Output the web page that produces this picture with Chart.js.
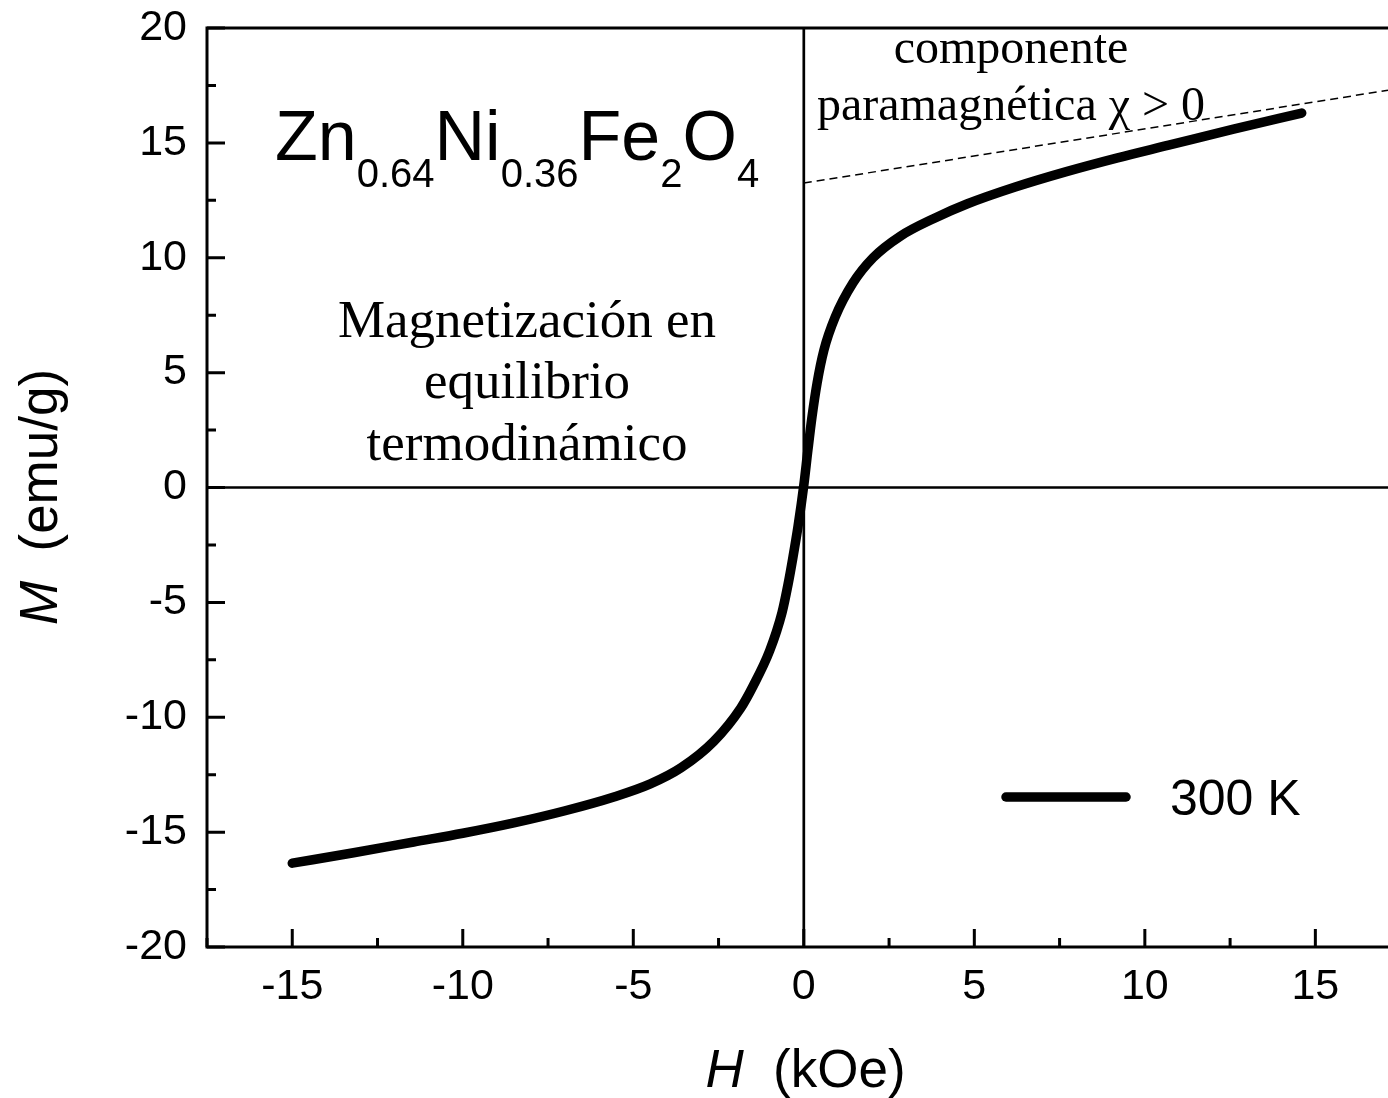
<!DOCTYPE html>
<html><head><meta charset="utf-8">
<script src="https://cdn.jsdelivr.net/npm/chart.js@4/dist/chart.umd.min.js"></script>
<style>html,body{margin:0;padding:0;background:#fff;overflow:hidden}#wrap{width:1388px;height:1098px;position:relative}</style>
</head><body><div id="wrap"><canvas id="c" width="1388" height="1098"></canvas></div>
<script>
// ---- data ----
const fieldKOe = [-15.0,-13.2,-11.44,-10.0,-8.5,-7.0,-5.57,-4.5,-3.6,-2.64,-1.85,-1.49,-1.0,-0.64,-0.46,-0.32,-0.17,0.0,0.12,0.24,0.39,0.59,0.92,1.44,2.03,2.84,3.8,4.8,6.2,7.7,9.2,10.7,12.6,14.6];
const magnetization = [-16.35,-15.9,-15.43,-15.05,-14.6,-14.07,-13.47,-12.9,-12.2,-11.05,-9.6,-8.65,-7.1,-5.45,-4.2,-3.05,-1.7,0.1,1.63,3.07,4.55,5.98,7.42,8.9,10.0,10.95,11.7,12.35,13.08,13.75,14.35,14.9,15.6,16.3];
const fitField = [0, 17.13];
const fitMagnetization = [13.25, 17.29];
const seriesLabel = '300 K';
const xMajorTicks = [-15,-10,-5,0,5,10,15];
const xMinorTicks = [-17.5,-12.5,-7.5,-2.5,2.5,7.5,12.5];
const yMajorTicks = [-20,-15,-10,-5,0,5,10,15,20];
const yMinorTicks = [-17.5,-12.5,-7.5,-2.5,2.5,7.5,12.5,17.5];
const xTitleParts = [['H',1],['  (kOe)',0]];
const yTitleParts = [['M',1],['  (emu/g)',0]];
const formulaParts = [['Zn',0],['0.64',1],['Ni',0],['0.36',1],['Fe',0],['2',1],['O',0],['4',1]];
const leftNote = ['Magnetización en','equilibrio','termodinámico'];
const rightNote = ['componente','paramagnética χ > 0'];

const SANS = '"Liberation Sans", Arial, sans-serif';
const SERIF = '"Liberation Serif", "Times New Roman", serif';

function drawParts(ctx, parts, size, cx, cy) {
  const fonts = parts.map(([t, it]) => (it ? 'italic ' : '') + size + 'px ' + SANS);
  let total = 0;
  const widths = parts.map(([t], i) => { ctx.font = fonts[i]; const w = ctx.measureText(t).width; total += w; return w; });
  let x = cx - total / 2;
  ctx.textAlign = 'left';
  ctx.textBaseline = 'middle';
  parts.forEach(([t], i) => { ctx.font = fonts[i]; ctx.fillText(t, x, cy); x += widths[i]; });
}

const overlay = {
  id: 'overlay',
  beforeDatasetsDraw(chart) {
    const {ctx, chartArea: a, scales: {x, y}} = chart;
    ctx.save();
    ctx.strokeStyle = '#000';
    ctx.lineWidth = 2.7;
    const x0 = x.getPixelForValue(0), y0 = y.getPixelForValue(0);
    ctx.beginPath();
    ctx.moveTo(a.left, y0); ctx.lineTo(a.right, y0);
    ctx.moveTo(x0, a.top); ctx.lineTo(x0, a.bottom);
    ctx.stroke();
    ctx.restore();
  },
  afterDraw(chart) {
    const {ctx, chartArea: a, scales: {x, y}} = chart;
    ctx.save();
    ctx.strokeStyle = '#000';
    ctx.lineWidth = 3;
    ctx.lineCap = 'square';
    ctx.beginPath();
    ctx.moveTo(a.right + 5, a.top); ctx.lineTo(a.left, a.top); ctx.lineTo(a.left, a.bottom); ctx.lineTo(a.right + 5, a.bottom);
    ctx.stroke();
    ctx.lineCap = 'butt';
    ctx.beginPath();
    xMajorTicks.forEach(v => { const p = x.getPixelForValue(v); ctx.moveTo(p, a.bottom); ctx.lineTo(p, a.bottom - 18); });
    xMinorTicks.forEach(v => { const p = x.getPixelForValue(v); ctx.moveTo(p, a.bottom); ctx.lineTo(p, a.bottom - 9); });
    yMajorTicks.forEach(v => { const p = y.getPixelForValue(v); ctx.moveTo(a.left, p); ctx.lineTo(a.left + 18, p); });
    yMinorTicks.forEach(v => { const p = y.getPixelForValue(v); ctx.moveTo(a.left, p); ctx.lineTo(a.left + 9, p); });
    ctx.stroke();

    ctx.fillStyle = '#000';
    // axis titles
    drawParts(ctx, xTitleParts, 53, (a.left + a.right) / 2 + 8, 1072);
    ctx.save();
    ctx.translate(42, 497);
    ctx.rotate(-Math.PI / 2);
    drawParts(ctx, yTitleParts, 53, 0, 0);
    ctx.restore();

    // formula
    ctx.textBaseline = 'alphabetic';
    ctx.textAlign = 'left';
    let cx = 275;
    formulaParts.forEach(([t, sub]) => {
      ctx.font = sub ? '40px ' + SANS : '70px ' + SANS;
      ctx.fillText(t, cx, sub ? 187 : 160);
      cx += ctx.measureText(t).width;
    });

    // notes
    ctx.textAlign = 'center';
    ctx.font = '53px ' + SERIF;
    [337, 398, 460].forEach((b, i) => ctx.fillText(leftNote[i], 527, b));
    ctx.font = '48px ' + SERIF;
    [63, 120].forEach((b, i) => ctx.fillText(rightNote[i], 1011, b));

    // legend
    const ds = chart.data.datasets[0];
    ctx.strokeStyle = ds.borderColor;
    ctx.lineWidth = ds.borderWidth;
    ctx.lineCap = 'round';
    ctx.beginPath(); ctx.moveTo(1006, 797); ctx.lineTo(1126, 797); ctx.stroke();
    ctx.textAlign = 'left';
    ctx.font = '50px ' + SANS;
    ctx.fillText(ds.label, 1170, 815);
    ctx.restore();
  }
};

new Chart(document.getElementById('c'), {
  type: 'scatter',
  data: {
    datasets: [
      {
        label: seriesLabel,
        data: fieldKOe.map((h, i) => ({x: h, y: magnetization[i]})),
        showLine: true, borderColor: '#000', borderWidth: 9.5, pointRadius: 0,
        cubicInterpolationMode: 'monotone', borderCapStyle: 'round', borderJoinStyle: 'round'
      },
      {
        label: 'fit',
        data: fitField.map((h, i) => ({x: h, y: fitMagnetization[i]})),
        showLine: true, borderColor: '#000', borderWidth: 1.5, borderDash: [8, 5], pointRadius: 0
      }
    ]
  },
  options: {
    responsive: false, animation: false, devicePixelRatio: 1,
    layout: {padding: {top: 28, right: 0, left: 0, bottom: 0}},
    plugins: {legend: {display: false}, tooltip: {enabled: false}},
    scales: {
      x: {
        type: 'linear', min: -17.5, max: 17.13,
        afterBuildTicks: s => { s.ticks = xMajorTicks.map(v => ({value: v})); },
        afterFit: s => { s.height = 151; s.paddingLeft = 0; s.paddingRight = 0; },
        grid: {display: false, drawTicks: false}, border: {display: false},
        ticks: {color: '#000', font: {family: SANS, size: 43}, padding: 14, maxRotation: 0, autoSkip: false},
        title: {display: false}
      },
      y: {
        type: 'linear', min: -20, max: 20,
        afterBuildTicks: s => { s.ticks = yMajorTicks.map(v => ({value: v})); },
        afterFit: s => { s.width = 207; s.paddingTop = 0; s.paddingBottom = 0; },
        grid: {display: false, drawTicks: false}, border: {display: false},
        ticks: {color: '#000', font: {family: SANS, size: 43}, padding: 20, autoSkip: false},
        title: {display: false}
      }
    }
  },
  plugins: [overlay]
});
</script></body></html>
